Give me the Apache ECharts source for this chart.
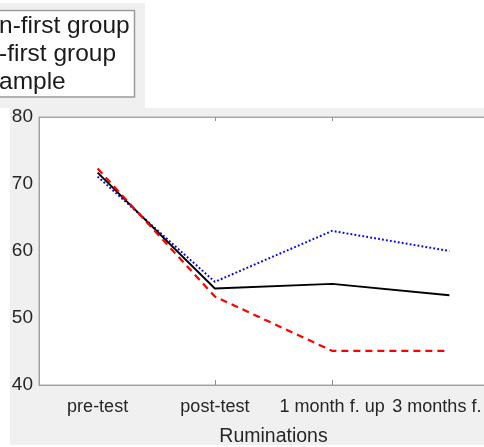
<!DOCTYPE html>
<html>
<head>
<meta charset="utf-8">
<script src="https://cdn.jsdelivr.net/npm/echarts@6/dist/echarts.min.js"></script>
<style>
html,body{margin:0;padding:0;background:#fff;}
#chart{width:484px;height:447px;}
</style>
</head>
<body>
<div id="chart"></div>
<script>
// Data
const categories = ['pre-test', 'post-test', '1 month f. up', '3 months f. up'];
const blueSeries = [71.1, 55.4, 63.0, 60.0];   // dotted
const blackSeries = [71.7, 54.4, 55.1, 53.4];  // solid
const redSeries = [72.3, 53.2, 45.1, 45.1];    // dashed
const yTicks = [40, 50, 60, 70, 80];
const legendTexts = ['n-first group', '-first group', 'ample'];
const xAxisTitle = 'Ruminations';

const FONT = '"Liberation Sans", Arial, Helvetica, sans-serif';
const chart = echarts.init(document.getElementById('chart'), null, {renderer: 'canvas'});

const legendSize = 24.5;
const baselines = [35, 63, 90.5];

const graphics = [
  {type: 'rect', shape: {x: 0, y: 3, width: 145, height: 105}, style: {fill: '#f0f0f0'}, z: -100, silent: true},
  {type: 'rect', shape: {x: 10, y: 108, width: 474, height: 337}, style: {fill: '#f0f0f0'}, z: -100, silent: true},
  {type: 'rect', shape: {x: -5, y: 10.5, width: 139.5, height: 86.5}, style: {fill: '#ffffff', stroke: '#9a9a9a', lineWidth: 1.5}, z: -50, silent: true}
];
legendTexts.forEach(function (t, i) {
  graphics.push({
    type: 'text', x: -1, y: baselines[i] - 0.35 * legendSize, z: -40, silent: true,
    style: {text: t, font: legendSize + 'px ' + FONT, fill: '#1a1a1a', verticalAlign: 'middle', align: 'left'}
  });
});

const tickShow = function (index) { return index === 1 || index === 2; };

chart.setOption({
  animation: false,
  graphic: graphics,
  grid: {left: 39, top: 117, width: 469, height: 268, show: true, backgroundColor: '#ffffff', borderColor: '#a8a8a8', borderWidth: 1, containLabel: false, outerBoundsMode: 'none'},
  xAxis: [{
    type: 'category', data: categories, boundaryGap: true, position: 'bottom',
    axisLine: {show: true, lineStyle: {color: '#a0a0a0', width: 1}},
    axisTick: {show: true, inside: true, length: 5, alignWithLabel: true, interval: tickShow, lineStyle: {color: '#909090'}},
    axisLabel: {show: true, interval: 0, hideOverlap: false, color: '#262626', fontSize: 18, fontFamily: FONT, margin: 13},
    splitLine: {show: false},
    name: xAxisTitle, nameLocation: 'middle', nameGap: 42,
    nameTextStyle: {color: '#262626', fontSize: 19.5, fontFamily: FONT}
  }, {
    type: 'category', data: categories, boundaryGap: true, position: 'top',
    axisLine: {show: true, lineStyle: {color: '#a8a8a8', width: 1}},
    axisTick: {show: true, inside: true, length: 4, alignWithLabel: true, interval: tickShow, lineStyle: {color: '#909090'}},
    axisLabel: {show: false}, splitLine: {show: false}
  }],
  yAxis: {
    type: 'value', min: 40, max: 80, interval: 10,
    axisLine: {show: true, lineStyle: {color: '#a0a0a0', width: 1}},
    axisTick: {show: false},
    splitLine: {show: false},
    axisLabel: {color: '#262626', fontSize: 19, fontFamily: FONT, margin: 6, padding: [5, 0, 0, 0],
      formatter: function (v) { return yTicks.indexOf(v) >= 0 ? String(v) : ''; }}
  },
  series: [
    {type: 'line', data: blueSeries, symbol: 'none', lineStyle: {color: '#0000ff', width: 2, type: [1.8, 2.2]}, z: 2},
    {type: 'line', data: blackSeries, symbol: 'none', lineStyle: {color: '#000000', width: 1.9, type: 'solid'}, z: 3},
    {type: 'line', data: redSeries, symbol: 'none', lineStyle: {color: '#ff0000', width: 2.2, type: [7, 5]}, z: 4}
  ]
});
</script>
</body>
</html>
